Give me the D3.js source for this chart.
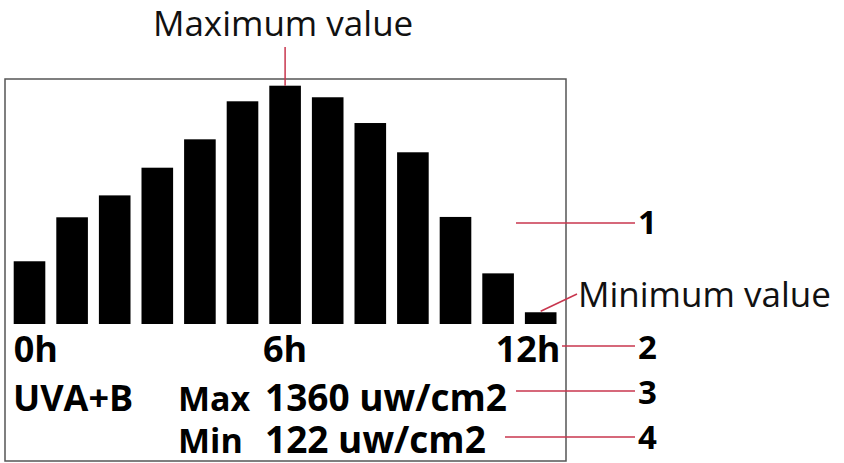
<!DOCTYPE html>
<html>
<head>
<meta charset="utf-8">
<script src="https://cdn.jsdelivr.net/npm/d3@7"></script>
<style>
  html, body { margin: 0; padding: 0; background: #fff; }
  svg { display: block; }
</style>
</head>
<body>
<div id="chart"></div>
<script>
// hourly UV readings shown on the display (arbitrary bar units)
const hours = [0, 1, 2, 3, 4, 5, 6, 7, 8, 9, 10, 11, 12];
const uvValues = [358, 609, 734, 892, 1054, 1271, 1360, 1294, 1147, 980, 611, 289, 67];
const tickHours = [0, 6, 12];
const tickLabels = ["0h", "6h", "12h"];
const maxReading = 1360;
const minReading = 122;
const unit = "uw/cm2";
const calloutLabels = ["1", "2", "3", "4"];

const width = 844;
const height = 463;
const red = "#c8364e";
const font = "'Open Sans', 'Noto Sans', sans-serif";

const svg = d3.select("#chart").append("svg")
  .attr("width", width)
  .attr("height", height);

// Display frame
svg.append("rect")
  .attr("x", 5)
  .attr("y", 79)
  .attr("width", 561)
  .attr("height", 382)
  .attr("fill", "none")
  .attr("stroke", "#555")
  .attr("stroke-width", 1.5);

const x = d3.scaleBand()
  .domain(hours)
  .range([13.7, 556.5])
  .paddingInner(0.258)
  .paddingOuter(0);

const y = d3.scaleLinear()
  .domain([0, maxReading])
  .range([324, 85.7]);

// Bars
svg.selectAll(".bar")
  .data(hours)
  .join("rect")
  .attr("class", "bar")
  .attr("x", d => x(d))
  .attr("y", (d, i) => y(uvValues[i]))
  .attr("width", x.bandwidth())
  .attr("height", (d, i) => y(0) - y(uvValues[i]))
  .attr("fill", "#000");

// Hour labels under the bars
svg.selectAll(".tick-label")
  .data(tickHours)
  .join("text")
  .attr("class", "tick-label")
  .attr("x", (d, i) => i === 0 ? x(d) : i === tickHours.length - 1 ? x(d) + x.bandwidth() + 4 : x(d) + x.bandwidth() / 2)
  .attr("y", 362)
  .attr("text-anchor", (d, i) => i === 0 ? "start" : i === tickHours.length - 1 ? "end" : "middle")
  .attr("font-family", font)
  .attr("font-weight", "bold")
  .attr("font-size", "36px")
  .attr("fill", "#000")
  .text((d, i) => tickLabels[i]);

// Readout lines
const readout = svg.append("g")
  .attr("font-family", font)
  .attr("font-weight", "bold")
  .attr("fill", "#000");

readout.append("text").attr("x", 13).attr("y", 411).attr("font-size", "36px").text("UVA+B");
readout.append("text").attr("x", 178).attr("y", 411).attr("font-size", "34px").text("Max");
readout.append("text").attr("x", 265).attr("y", 411).attr("font-size", "37px").text(`${maxReading} ${unit}`);
readout.append("text").attr("x", 178).attr("y", 453).attr("font-size", "34px").text("Min");
readout.append("text").attr("x", 265).attr("y", 453).attr("font-size", "37px").text(`${minReading} ${unit}`);

// Maximum value annotation
const maxIdx = uvValues.indexOf(d3.max(uvValues));
const maxX = x(hours[maxIdx]) + x.bandwidth() / 2;
svg.append("line")
  .attr("x1", maxX).attr("x2", maxX)
  .attr("y1", 47).attr("y2", y(uvValues[maxIdx]))
  .attr("stroke", red)
  .attr("stroke-width", 1.5);
svg.append("text")
  .attr("x", maxX - 2)
  .attr("y", 36)
  .attr("text-anchor", "middle")
  .attr("font-family", font)
  .attr("font-size", "35px")
  .attr("fill", "#111")
  .text("Maximum value");

// Minimum value annotation
const minIdx = uvValues.indexOf(d3.min(uvValues));
const minX = x(hours[minIdx]) + x.bandwidth() / 2;
svg.append("line")
  .attr("x1", minX).attr("y1", y(uvValues[minIdx]) - 1)
  .attr("x2", 577).attr("y2", 294)
  .attr("stroke", red)
  .attr("stroke-width", 1.5);
svg.append("text")
  .attr("x", 578)
  .attr("y", 307)
  .attr("font-family", font)
  .attr("font-size", "35px")
  .attr("fill", "#111")
  .text("Minimum value");

// Numbered callouts
const callouts = [
  { x1: 516, y: 223, ty: 234 },
  { x1: 562, y: 346, ty: 359 },
  { x1: 516, y: 391, ty: 404 },
  { x1: 505, y: 437, ty: 449 }
];
callouts.forEach((c, i) => {
  svg.append("line")
    .attr("x1", c.x1).attr("x2", 635)
    .attr("y1", c.y).attr("y2", c.y)
    .attr("stroke", red)
    .attr("stroke-width", 1.5);
  svg.append("text")
    .attr("x", 638)
    .attr("y", c.ty)
    .attr("font-family", font)
    .attr("font-weight", "bold")
    .attr("font-size", "33px")
    .attr("fill", "#000")
    .text(calloutLabels[i]);
});
</script>
</body>
</html>
